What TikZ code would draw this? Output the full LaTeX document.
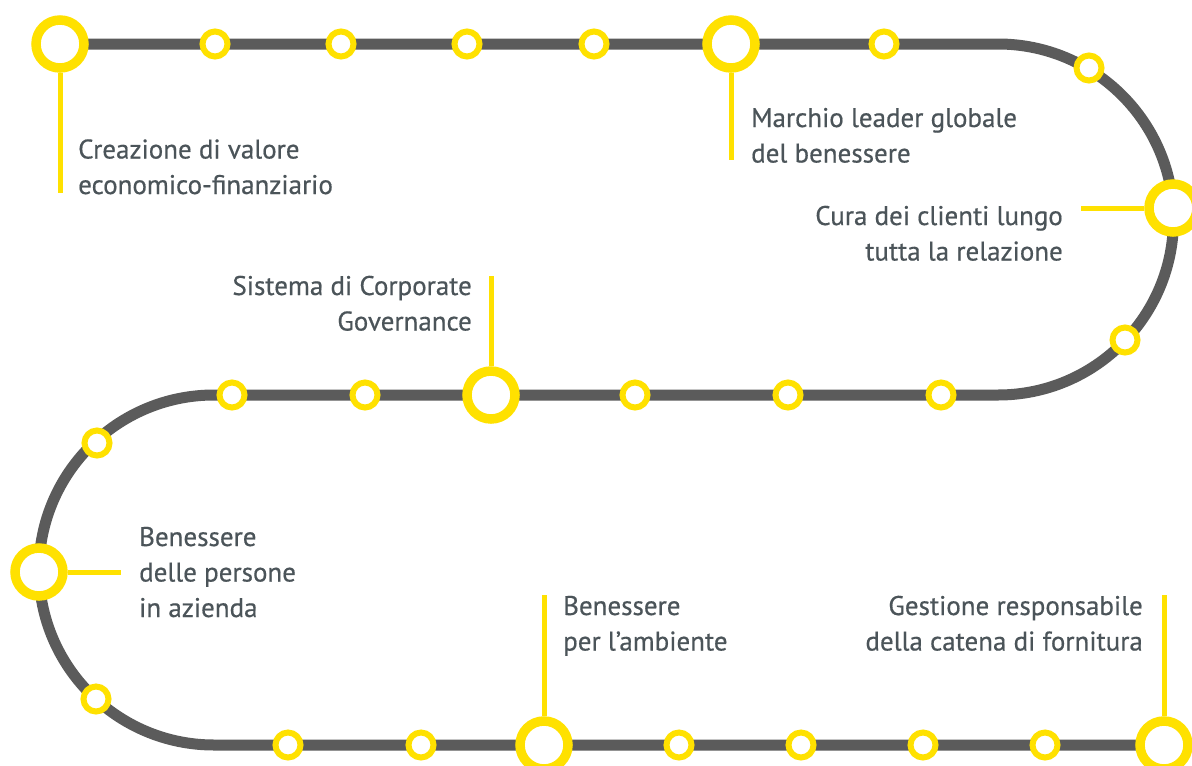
\documentclass[tikz,border=0pt]{standalone}
\usepackage{fontspec}
\setmainfont{PT Sans}[FakeBold=0.5]
\usetikzlibrary{backgrounds}
\definecolor{trackgrey}{HTML}{5B5B5B}
\definecolor{stopyellow}{HTML}{FFE100}
\definecolor{textgrey}{HTML}{4B5459}
\tikzstyle{track} = [line width=11pt, draw=trackgrey]
\tikzstyle{pin} = [line width=5pt, draw=stopyellow]
\tikzstyle{stop} = [circle, inner sep=0pt, minimum size=25pt, line width=6pt, draw=stopyellow, fill=white]
\tikzstyle{goal} = [stop, minimum size=48pt, line width=9.5pt]
\tikzstyle{caption} = [inner sep=0pt, text=textgrey, font=\fontsize{27}{35.5}\selectfont]

\begin{document}
\begin{tikzpicture}[x=1pt, y=-1pt]
\clip (0,0) rectangle (1192,766);
% stops along the track
\node (goal1) [goal] at (60,44) {};
\node (s1) [stop] at (215,44) {};
\node (s2) [stop] at (341,44) {};
\node (s3) [stop] at (467,44) {};
\node (s4) [stop] at (594,44) {};
\node (goal2) [goal] at (731,44) {};
\node (s5) [stop] at (884,44) {};
\node (s6) [stop] at (1089,68) {};
\node (goal3) [goal] at (1173,208) {};
\node (s7) [stop] at (1125,340) {};
\node (s8) [stop] at (941,395) {};
\node (s9) [stop] at (788,395) {};
\node (s10) [stop] at (635,395) {};
\node (goal4) [goal] at (491,395) {};
\node (s11) [stop] at (365,395) {};
\node (s12) [stop] at (232,395) {};
\node (s13) [stop] at (97,443) {};
\node (goal5) [goal] at (39,572) {};
\node (s14) [stop] at (96,699) {};
\node (s15) [stop] at (288,745) {};
\node (s16) [stop] at (421,745) {};
\node (goal6) [goal] at (544,745) {};
\node (s17) [stop] at (679,745) {};
\node (s18) [stop] at (801,745) {};
\node (s19) [stop] at (923,745) {};
\node (s20) [stop] at (1045,745) {};
\node (goal7) [goal] at (1164,745) {};

\coordinate (turn1) at (998,44);
\coordinate (turn2) at (214,395);
\coordinate (p1) at (60,193);
\coordinate (p2) at (731,160);
\coordinate (p3) at (1081,208);
\coordinate (p4) at (491,276);
\coordinate (p5) at (121,572);
\coordinate (p6) at (544,595);
\coordinate (p7) at (1164,595);

\begin{pgfonlayer}{background}
\fill [white] (0,0) rectangle (1192,766);
\draw [track] (goal1.center) -- (turn1) arc[start angle=90, end angle=-90, radius=175.5pt] -- (turn2) arc[start angle=90, end angle=270, radius=175pt] -- (goal7.center);
\draw [pin] (goal1) -- (p1);
\draw [pin] (goal2) -- (p2);
\draw [pin] (goal3) -- (p3);
\draw [pin] (goal4) -- (p4);
\draw [pin] (goal5) -- (p5);
\draw [pin] (goal6) -- (p6);
\draw [pin] (goal7) -- (p7);
\end{pgfonlayer}

\node (t1) [caption, anchor=base west, align=left] at (78,194) {Creazione di valore\\economico-finanziario};
\node (t2) [caption, anchor=base west, align=left] at (751,162.5) {Marchio leader globale\\del benessere};
\node (t3) [caption, anchor=base east, align=right] at (1063,260.5) {Cura dei clienti lungo\\tutta la relazione};
\node (t4) [caption, anchor=base east, align=right] at (472,330.5) {Sistema di Corporate\\Governance};
\node (t5) [caption, anchor=base west, align=left] at (139,617) {Benessere\\delle persone\\in azienda};
\node (t6) [caption, anchor=base west, align=left] at (563,650.5) {Benessere\\per l’ambiente};
\node (t7) [caption, anchor=base east, align=right] at (1143,650.5) {Gestione responsabile\\della catena di fornitura};
\end{tikzpicture}
\end{document}
